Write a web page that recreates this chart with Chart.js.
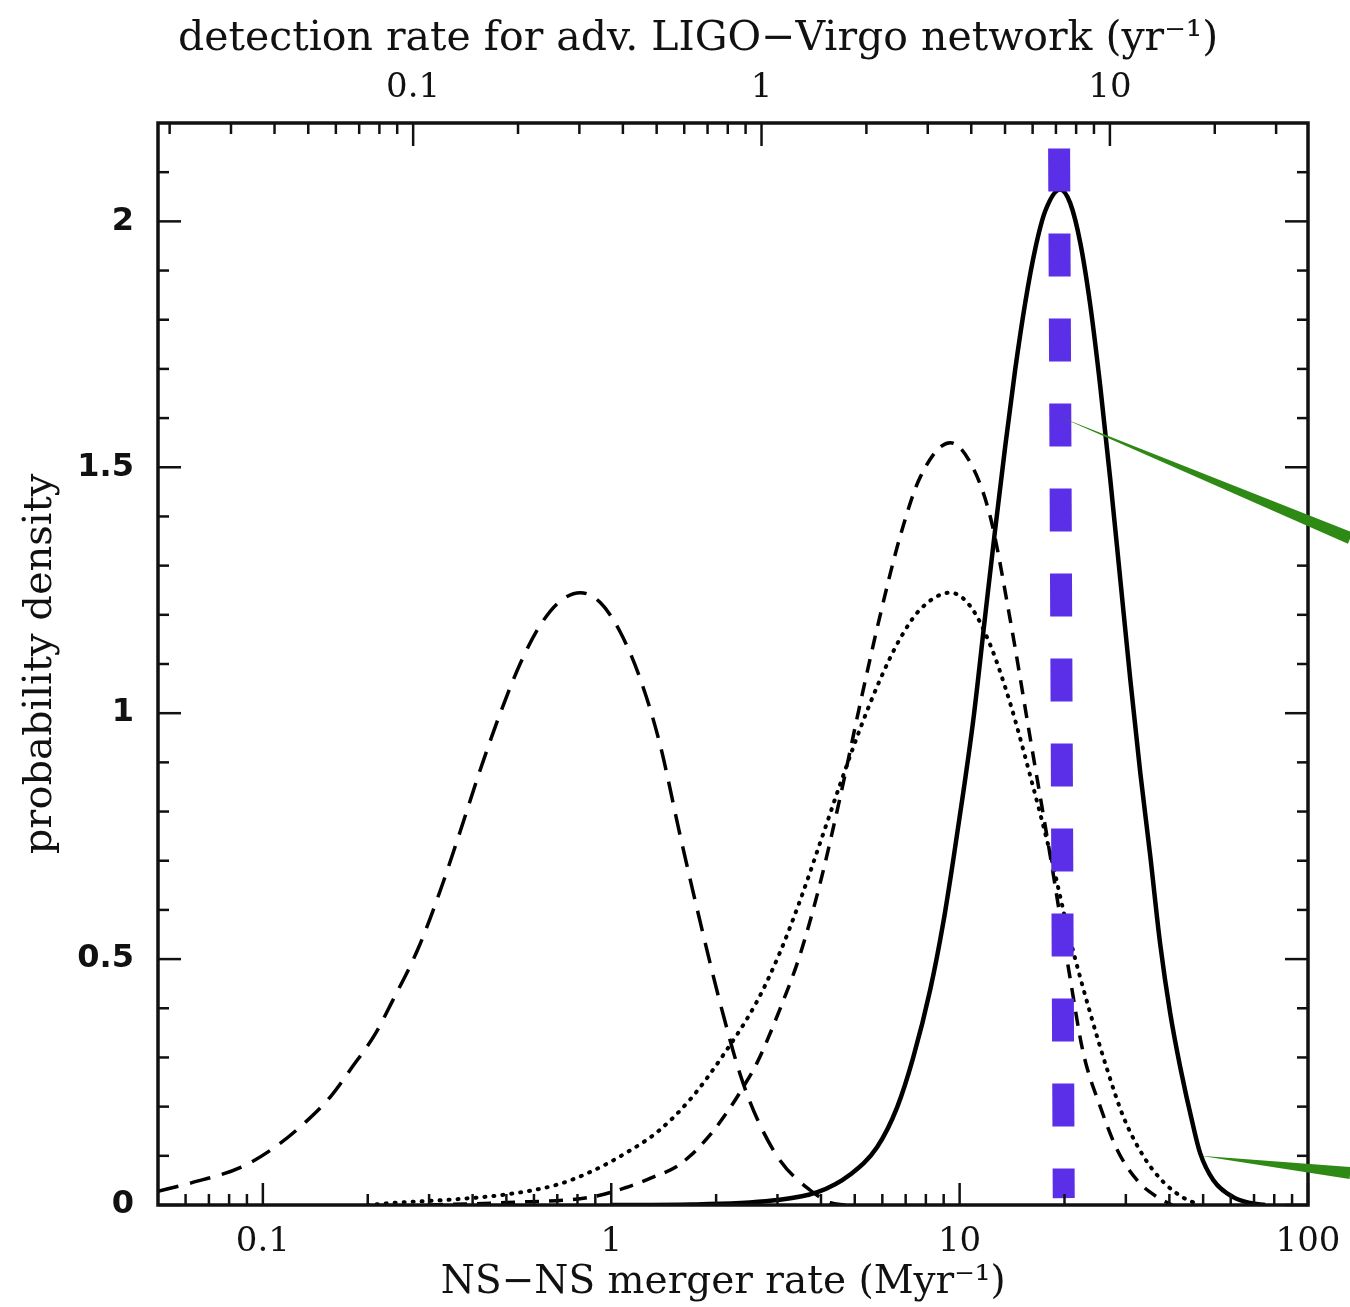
<!DOCTYPE html>
<html>
<head>
<meta charset="utf-8">
<script src="https://cdn.jsdelivr.net/npm/chart.js@4.4.1/dist/chart.umd.min.js"></script>
<style>
html,body{margin:0;padding:0;background:#fff;}
#wrap{width:1350px;height:1307px;}
</style>
</head>
<body>
<div id="wrap"><canvas id="c" width="1350" height="1307"></canvas></div>
<script>
// ---- data ----
// NS-NS merger rate (Myr^-1) vs probability density
const longDashX = [0.05, 0.0623, 0.0867, 0.1085, 0.1323, 0.1571, 0.1794, 0.2102, 0.2336, 0.2793, 0.3251, 0.3686, 0.4207, 0.4802, 0.5481, 0.6256, 0.714, 0.8147, 0.930, 1.061, 1.211, 1.382, 1.578, 1.801, 2.055, 2.346, 2.625, 3.056, 3.726, 4.253, 4.694];
const longDashY = [0.028, 0.045, 0.077, 0.118, 0.168, 0.222, 0.278, 0.348, 0.41, 0.522, 0.645, 0.76, 0.885, 1.0, 1.101, 1.179, 1.228, 1.245, 1.225, 1.165, 1.07, 0.935, 0.75, 0.575, 0.41, 0.265, 0.175, 0.09, 0.03, 0.005, 0.0];

const dashX = [0.3, 0.5, 0.876, 1.097, 1.302, 1.537, 1.686, 1.924, 2.196, 2.393, 2.625, 3.056, 3.487, 3.98, 4.543, 5.185, 5.918, 6.753, 7.707, 9.40, 10.72, 12.24, 13.97, 15.94, 18.2, 20.77, 22.63, 25.33, 28.35, 32.35, 36.93, 40.75];
const dashY = [0.0, 0.005, 0.016, 0.035, 0.055, 0.078, 0.1, 0.143, 0.198, 0.24, 0.29, 0.40, 0.51, 0.655, 0.83, 1.02, 1.2, 1.36, 1.48, 1.55, 1.51, 1.40, 1.19, 0.95, 0.71, 0.46, 0.31, 0.20, 0.112, 0.05, 0.016, 0.0];

const dotX = [0.2, 0.2336, 0.3638, 0.5062, 0.7046, 0.876, 1.097, 1.364, 1.686, 2.097, 2.625, 3.056, 3.487, 3.98, 4.543, 5.185, 5.918, 6.753, 7.707, 9.40, 10.72, 12.24, 13.97, 15.94, 18.2, 20.77, 23.71, 26.53, 29.49, 33.65, 38.41, 43.84, 49.05];
const dotY = [0.0, 0.004, 0.012, 0.022, 0.042, 0.068, 0.105, 0.15, 0.215, 0.305, 0.415, 0.515, 0.62, 0.737, 0.856, 0.969, 1.069, 1.152, 1.211, 1.245, 1.218, 1.139, 1.02, 0.873, 0.715, 0.54, 0.39, 0.275, 0.18, 0.10, 0.047, 0.015, 0.0];

const solidX = [1.0, 1.7, 2.9, 3.907, 4.853, 5.8, 6.62, 7.36, 8.23, 8.97, 9.58, 10.24, 10.94, 11.85, 12.65, 13.52, 14.44, 15.43, 16.48, 17.61, 19.44, 20.77, 22.19, 23.71, 25.33, 27.06, 28.91, 30.89, 32.99, 35.25, 37.65, 40.22, 42.98, 46.84, 49.05, 53.45, 61.0, 68.3, 75.4];
const solidY = [0.0, 0.001, 0.009, 0.026, 0.062, 0.118, 0.199, 0.30, 0.437, 0.573, 0.70, 0.838, 0.985, 1.20, 1.374, 1.543, 1.699, 1.835, 1.944, 2.021, 2.065, 2.037, 1.957, 1.83, 1.665, 1.476, 1.273, 1.069, 0.88, 0.71, 0.53, 0.39, 0.28, 0.16, 0.105, 0.051, 0.016, 0.004, 0.0];

// vertical marker (blue dashed): merger rate, density
const markerX = [19.3, 19.9];
const markerY = [2.148, 0.014];

// green annotation wedges: start and end points in data units
const greenStartX = [19.45, 49.05];
const greenStartY = [1.602, 0.1];
const greenEndX = [132.2, 132.2];
const greenEndY = [1.356, 0.065];

// axes
const xRange = [0.05, 100];
const yRange = [0, 2.2];
const detectionPerMergerRatio = 2.7; // 1 yr^-1 detection  <->  2.7 Myr^-1 merger rate
const xMajorTicks = [0.1, 1, 10, 100];
const xMinorTicks = [0.06, 0.07, 0.08, 0.09, 0.2, 0.3, 0.4, 0.5, 0.6, 0.7, 0.8, 0.9, 2, 3, 4, 5, 6, 7, 8, 9, 20, 30, 40, 50, 60, 70, 80, 90];
const topMajorTicks = [0.1, 1, 10];
const topMinorTicks = [0.02, 0.03, 0.04, 0.05, 0.06, 0.07, 0.08, 0.09, 0.2, 0.3, 0.4, 0.5, 0.6, 0.7, 0.8, 0.9, 2, 3, 4, 5, 6, 7, 8, 9, 20, 30];
const yMajorTicks = [0, 0.5, 1, 1.5, 2];
const yMinorTicks = [0.1, 0.2, 0.3, 0.4, 0.6, 0.7, 0.8, 0.9, 1.1, 1.2, 1.3, 1.4, 1.6, 1.7, 1.8, 1.9, 2.1];

const xTitle = "NS\u2212NS merger rate (Myr\u207B\u00B9)";
const topTitle = "detection rate for adv. LIGO\u2212Virgo network (yr\u207B\u00B9)";
const yTitle = "probability density";

// ---- build ----
const pts = (xs, ys) => xs.map((x, i) => ({x: x, y: ys[i]}));
const titleFont = {family: "'DejaVu Serif', serif", size: 39};
const topTitleFont = {family: "'DejaVu Serif', serif", size: 41};
const yTitleFont = {family: "'DejaVu Serif', serif", size: 40};
const tickFontSerif = {family: "'DejaVu Serif', serif", size: 34};
const tickFontY = {family: "'DejaVu Sans', sans-serif", size: 32, weight: 'bold'};

const frameTicks = {
  id: 'frameTicks',
  afterDatasetsDraw(chart) {
    const ctx = chart.ctx;
    const a = chart.chartArea;
    const xs = chart.scales.x, xt = chart.scales.x2, ys = chart.scales.y;
    ctx.save();
    ctx.strokeStyle = '#111';
    ctx.lineCap = 'butt';
    ctx.lineWidth = 2.5;
    const tick = (v, len, scale, side) => {
      const p = scale.getPixelForValue(v);
      ctx.beginPath();
      if (side === 'bottom') { ctx.moveTo(p, a.bottom); ctx.lineTo(p, a.bottom - len); }
      else if (side === 'top') { ctx.moveTo(p, a.top); ctx.lineTo(p, a.top + len); }
      else if (side === 'left') { ctx.moveTo(a.left, p); ctx.lineTo(a.left + len, p); }
      else { ctx.moveTo(a.right, p); ctx.lineTo(a.right - len, p); }
      ctx.stroke();
    };
    xMajorTicks.forEach(v => tick(v, 22, xs, 'bottom'));
    xMinorTicks.forEach(v => tick(v, 11, xs, 'bottom'));
    topMajorTicks.forEach(v => tick(v, 23, xt, 'top'));
    topMinorTicks.forEach(v => tick(v, 11, xt, 'top'));
    yMajorTicks.forEach(v => { tick(v, 23, ys, 'left'); tick(v, 23, ys, 'right'); });
    yMinorTicks.forEach(v => { tick(v, 11, ys, 'left'); tick(v, 11, ys, 'right'); });
    ctx.lineWidth = 3.5;
    ctx.strokeRect(a.left, a.top, a.right - a.left, a.bottom - a.top);
    ctx.restore();
  },
  afterDraw(chart) {
    const ctx = chart.ctx;
    const xs = chart.scales.x, ys = chart.scales.y;
    ctx.save();
    ctx.fillStyle = '#2E8A14';
    for (let i = 0; i < greenStartX.length; i++) {
      const sx = xs.getPixelForValue(greenStartX[i]), sy = ys.getPixelForValue(greenStartY[i]);
      const ex = xs.getPixelForValue(greenEndX[i]), ey = ys.getPixelForValue(greenEndY[i]);
      const dx = ex - sx, dy = ey - sy, L = Math.hypot(dx, dy);
      const nx = -dy / L, ny = dx / L, w = 6;
      ctx.beginPath();
      ctx.moveTo(sx, sy);
      ctx.lineTo(ex + nx * w, ey + ny * w);
      ctx.lineTo(ex - nx * w, ey - ny * w);
      ctx.closePath();
      ctx.fill();
    }
    ctx.restore();
  }
};

const lineBase = {showLine: true, pointRadius: 0, fill: false, cubicInterpolationMode: 'monotone', borderColor: '#000', xAxisID: 'x', yAxisID: 'y'};
const noSidePad = s => { s.paddingLeft = 0; s.paddingRight = 0; };

new Chart(document.getElementById('c'), {
  type: 'scatter',
  data: {
    datasets: [
      Object.assign({}, lineBase, {label: 'marker', data: pts(markerX, markerY), borderColor: '#5B2EE8', borderWidth: 22, borderDash: [43, 42], borderCapStyle: 'butt', cubicInterpolationMode: 'default', tension: 0}),
      Object.assign({}, lineBase, {label: 'solid', data: pts(solidX, solidY), borderWidth: 4.5}),
      Object.assign({}, lineBase, {label: 'dashed', data: pts(dashX, dashY), borderWidth: 3.5, borderDash: [14, 10]}),
      Object.assign({}, lineBase, {label: 'dotted', data: pts(dotX, dotY), borderWidth: 4, borderDash: [1, 8], borderCapStyle: 'round'}),
      Object.assign({}, lineBase, {label: 'long dashed', data: pts(longDashX, longDashY), borderWidth: 3.5, borderDash: [21, 12]})
    ]
  },
  options: {
    responsive: false,
    animation: false,
    layout: {padding: {left: 0, right: 42, top: 0, bottom: 0}},
    plugins: {legend: {display: false}, tooltip: {enabled: false}},
    scales: {
      x: {
        type: 'logarithmic', position: 'bottom', min: xRange[0], max: xRange[1],
        afterBuildTicks: s => { s.ticks = xMajorTicks.map(v => ({value: v})); },
        afterFit: s => { s.height = 102; noSidePad(s); },
        grid: {display: false, drawTicks: false},
        border: {display: false},
        ticks: {callback: v => String(v), font: tickFontSerif, color: '#111', padding: 17, maxRotation: 0, autoSkip: false},
        title: {display: true, text: xTitle + '\u2002', font: titleFont, color: '#111', padding: {top: 0, bottom: 1}}
      },
      x2: {
        type: 'logarithmic', position: 'top',
        min: xRange[0] / detectionPerMergerRatio, max: xRange[1] / detectionPerMergerRatio,
        afterBuildTicks: s => { s.ticks = topMajorTicks.map(v => ({value: v})); },
        afterFit: s => { s.height = 123; noSidePad(s); },
        grid: {display: false, drawTicks: false},
        border: {display: false},
        ticks: {callback: v => String(v), font: tickFontSerif, color: '#111', padding: 14, maxRotation: 0, autoSkip: false},
        title: {display: true, text: topTitle + '\u2003\u2002\u2009', font: topTitleFont, color: '#111', padding: {top: 15, bottom: 0}}
      },
      y: {
        type: 'linear', position: 'left', min: yRange[0], max: yRange[1],
        afterBuildTicks: s => { s.ticks = yMajorTicks.map(v => ({value: v})); },
        afterFit: s => { s.width = 158; },
        grid: {display: false, drawTicks: false},
        border: {display: false},
        ticks: {callback: v => String(v), font: tickFontY, color: '#111', padding: 24, autoSkip: false},
        title: {display: true, text: yTitle, font: yTitleFont, color: '#111', padding: {top: 17, bottom: 0}}
      }
    }
  },
  plugins: [frameTicks]
});
</script>
</body>
</html>
